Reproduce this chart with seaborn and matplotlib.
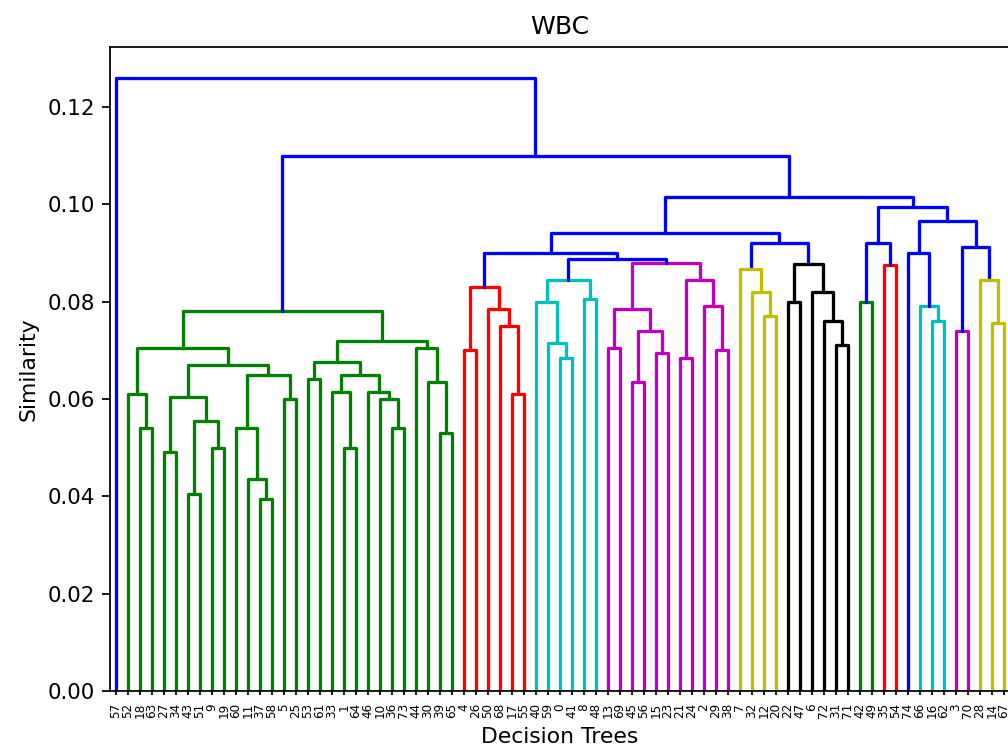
import matplotlib
matplotlib.use("Agg")
import matplotlib.pyplot as plt
import pandas as pd
import seaborn as sns

# Dendrogram of decision-tree similarity (WBC). Each merge is [left, right, height];
# leaves are decision tree ids.
green = [
    [[52, [18, 63, .054], .061],
     [[[27, 34, .049], [[43, 51, .0405], [9, 19, .050], .0555], .0605],
      [[60, [11, [37, 58, .0395], .0435], .054], [5, 25, .060], .065], .067], .0705],
    [[[53, 61, .064],
      [[33, [1, 64, .050], .0615], [46, [10, [36, 73, .054], .060], .0615], .065], .0675],
     [44, [30, [39, 65, .053], .0635], .0705], .072],
    .078]
red = [[4, 26, .070], [50, [68, [17, 55, .061], .075], .0785], .083]
cyan = [[40, [59, [0, 41, .0685], .0715], .080], [8, 48, .0805], .0845]
magenta = [[[13, 69, .0705], [[45, 56, .0635], [15, 23, .0695], .074], .0785],
           [[21, 24, .0685], [2, [29, 38, .070], .079], .0845], .088]
yellow = [7, [32, [12, 20, .077], .082], .0866]
black = [[22, 47, .080], [6, [72, [31, 71, .071], .076], .082], .0877]
green2 = [42, 49, .080]
red2 = [35, 54, .0875]
cyan2 = [66, [16, 62, .076], .079]
magenta2 = [3, 70, .074]
yellow2 = [28, [14, 67, .0755], .0845]

left_block = [red, [cyan, magenta, .0887], .090]
mid_block = [left_block, [yellow, black, .092], .094]
right_block = [[green2, red2, .092], [[74, cyan2, .090], [magenta2, yellow2, .0913], .0965], .0994]
root = [57, [green, [mid_block, right_block, .1015], .110], .126]

cluster_colors = ["#008000", "#ff0000", "#00bfbf", "#bf00bf", "#bfbf00", "#000000"]
above_color = "#0000ff"
threshold = 0.7 * root[2]

leaves, rows = [], []
state = {"next": 0}


def walk(node, color=None):
    if not isinstance(node, list):
        x = 5 + 10 * len(leaves)
        leaves.append(node)
        return x, 0.0
    left, right, h = node
    if color is None and h < threshold:
        color = cluster_colors[state["next"] % len(cluster_colors)]
        state["next"] += 1
    xl, yl = walk(left, color)
    xr, yr = walk(right, color)
    link = len(rows) // 4
    c = color if color is not None else above_color
    for x, y in [(xl, yl), (xl, h), (xr, h), (xr, yr)]:
        rows.append({"link": link, "x": x, "y": y, "color": c})
    return (xl + xr) / 2, h


walk(root)
df = pd.DataFrame(rows)

sns.set_style("ticks", {"axes.edgecolor": "black", "text.color": "black",
                        "axes.labelcolor": "black", "xtick.color": "black",
                        "ytick.color": "black"})
plt.rcParams["font.family"] = ["DejaVu Sans"]

fig = plt.figure(figsize=(1008 / 157.5, 754 / 157.5), dpi=157.5)
ax = fig.add_axes([110 / 1008, 1 - 691 / 754, 900 / 1008, (691 - 47) / 754])

palette = {c: c for c in df["color"].unique()}
sns.lineplot(data=df, x="x", y="y", units="link", estimator=None, sort=False,
             hue="color", palette=palette, legend=False, linewidth=1.5, ax=ax)

n = len(leaves)
ax.set_xlim(0, 10 * n)
ax.set_ylim(0, root[2] * 1.05)
ax.set_xticks([5 + 10 * i for i in range(n)])
ax.set_xticklabels([str(v) for v in leaves], rotation=90, fontsize=5.5)
ax.tick_params(axis="x", length=2)
ax.tick_params(axis="y", labelsize=9.8, length=3.5)
ax.yaxis.set_major_formatter(matplotlib.ticker.FormatStrFormatter("%.2f"))
ax.set_yticks([0, .02, .04, .06, .08, .10, .12])
for s in ax.spines.values():
    s.set_visible(True)
    s.set_linewidth(0.8)

ax.set_title("WBC", fontsize=11.5)
ax.set_xlabel("Decision Trees", fontsize=10)
ax.set_ylabel("Similarity", fontsize=10)

fig.savefig("out.png", dpi=157.5)
